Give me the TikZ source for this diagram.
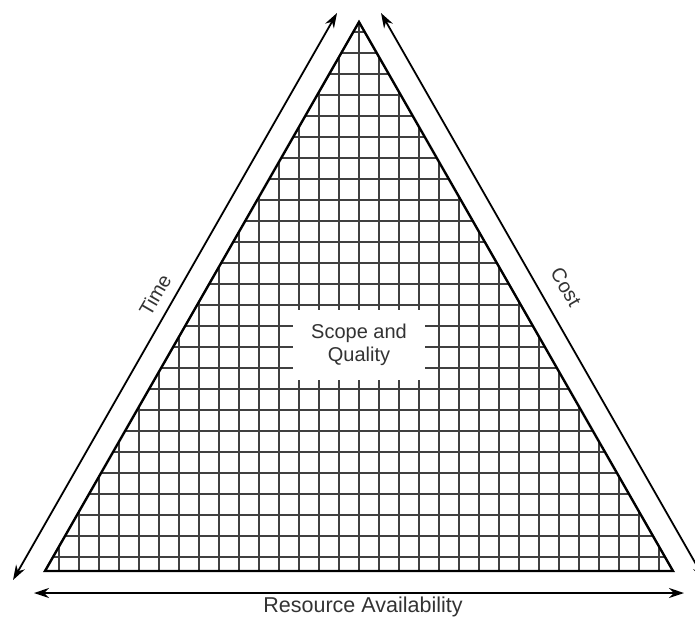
\documentclass[tikz,border=0pt]{standalone}
\usepackage{fontspec}
\setmainfont{Liberation Sans}
\usepackage{xcolor}
\usepackage{tikz}
\usetikzlibrary{arrows.meta}
\definecolor{gridgray}{HTML}{404040}
\tikzset{
  side/.style={line width=2.4pt,line join=miter},
  gridline/.style={gridgray,line width=1.3pt},
  dimarr/.style={{Stealth[length=15pt,width=10pt]}-{Stealth[length=15pt,width=10pt]},line width=1.8pt},
  lbl/.style={font=\fontsize{20}{23}\selectfont,inner sep=0pt,text=black!80},
  scopebox/.style={lbl,fill=white,minimum width=132pt,minimum height=70pt,align=center},
}
\begin{document}
\begin{tikzpicture}[x=1pt,y=-1pt]
    \useasboundingbox (0,0) rectangle (695,625);
    \coordinate (apex) at (359,22);
    \coordinate (bl) at (45,571);
    \coordinate (br) at (673,571);
    % grid inside the triangle
    \begin{scope}
      \clip (apex) -- (bl) -- (br) -- cycle;
      \foreach \i in {-16,...,16} \draw[gridline] (359+20*\i,0) -- ++(0,600);
      \foreach \j in {0,...,26} \draw[gridline] (0,557-21*\j) -- ++(695,0);
    \end{scope}
    \draw[side] (apex) -- (bl) -- (br) -- cycle;
    \node[scopebox] (sq) at (359,345) {Scope and\\Quality};
    % arrows along the sides
    \coordinate (t0) at (13,580);
    \coordinate (t1) at (337,13);
    \coordinate (c0) at (381,13);
    \coordinate (c1) at (705,580);
    \coordinate (r0) at (34,593);
    \coordinate (r1) at (684,593);
    \draw[dimarr] (t0) -- (t1);
    \draw[dimarr] (c0) -- (c1);
    \draw[dimarr] (r0) -- (r1);
    \node[lbl,rotate=60] (time) at (155,295) {Time};
    \node[lbl,rotate=-60] (cost) at (566,287) {Cost};
    \node[lbl,anchor=base,font=\fontsize{21.5}{24}\selectfont] (res) at (363,612) {Resource Availability};
  \end{tikzpicture}
\end{document}
